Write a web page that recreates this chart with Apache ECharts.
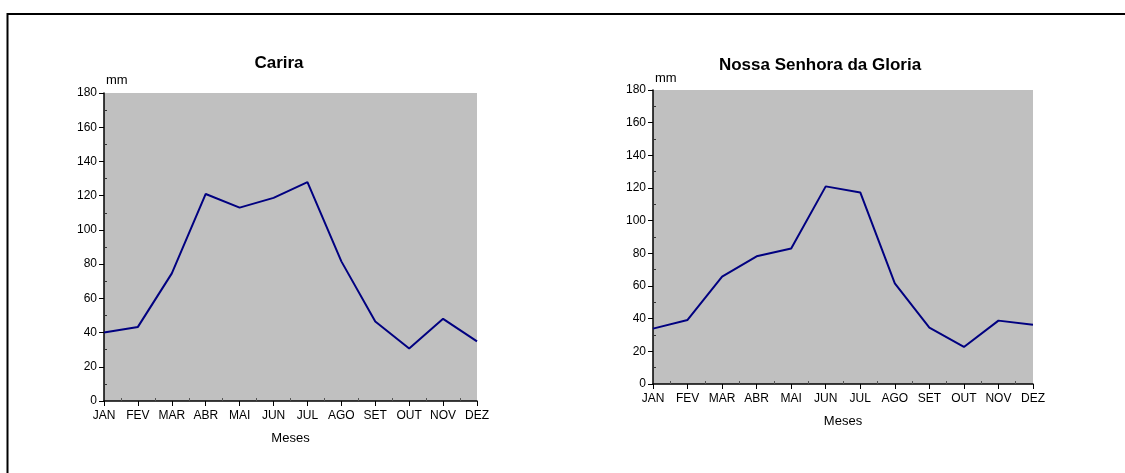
<!DOCTYPE html>
<html>
<head>
<meta charset="utf-8">
<script src="https://cdn.jsdelivr.net/npm/echarts@6/dist/echarts.min.js"></script>
<style>
  html, body { margin: 0; padding: 0; background: #fff; }
  #main { width: 1125px; height: 473px; }
</style>
</head>
<body>
<div id="main"></div>
<script>
// dados de precipitação mensal (mm)
const meses = ['JAN', 'FEV', 'MAR', 'ABR', 'MAI', 'JUN', 'JUL', 'AGO', 'SET', 'OUT', 'NOV', 'DEZ'];
const carira = [40, 43.3, 74.6, 121, 113, 118.7, 127.9, 81.6, 46.5, 30.7, 48, 34.8];
const gloria = [33.9, 39.2, 65.7, 78.2, 82.9, 121, 117.3, 61.6, 34.5, 22.7, 38.8, 36.3];
const yTicks = [0, 20, 40, 60, 80, 100, 120, 140, 160, 180];

const font = 'Liberation Sans, Arial, sans-serif';
const minorY = yTicks.slice(0, -1).map(v => v + 10);
const minorX = meses.slice(0, -1).map((m, i) => i + 0.5);

let myChart = echarts.init(document.getElementById('main'));

function eixoX(grid) {
	return {
		type: 'category',
		gridIndex: grid,
		data: meses,
		boundaryGap: false,
		name: 'Meses',
		nameLocation: 'middle',
		nameGap: 31,
		nameTextStyle: { color: '#000', fontSize: 13, fontFamily: font },
		axisLine: { lineStyle: { color: '#000', width: 1.5 } },
		axisTick: { alignWithLabel: true, length: 5, lineStyle: { color: '#000' } },
		axisLabel: { color: '#000', fontSize: 12, fontFamily: font, margin: 9, interval: 0 },
		splitLine: { show: false }
	}
}

function eixoY(grid, gap) {
	return {
		type: 'value',
		gridIndex: grid,
		min: 0,
		max: 180,
		interval: 20,
		name: 'mm',
		nameLocation: 'end',
		nameGap: gap,
		nameTextStyle: { color: '#000', fontSize: 13, fontFamily: font, align: 'left', padding: [0, 0, 0, 2] },
		axisLine: { show: true, lineStyle: { color: '#000', width: 1.5 } },
		axisTick: { show: true, length: 5, lineStyle: { color: '#000' } },
		axisLabel: { color: '#000', fontSize: 12, fontFamily: font, margin: 7 },
		splitLine: { show: false }
	}
}

// eixos auxiliares so para os tracinhos menores internos
function menorX(grid) {
	return {
		type: 'value', gridIndex: grid, min: 0, max: 11, position: 'bottom',
		axisLine: { show: false },
		axisTick: { show: true, inside: true, length: 3, customValues: minorX, lineStyle: { color: '#555' } },
		axisLabel: { show: false },
		splitLine: { show: false }
	}
}
function menorY(grid) {
	return {
		type: 'value', gridIndex: grid, min: 0, max: 180, position: 'left',
		axisLine: { show: false },
		axisTick: { show: true, inside: true, length: 3, customValues: minorY, lineStyle: { color: '#333' } },
		axisLabel: { show: false },
		splitLine: { show: false }
	}
}

function serie(nome, dados, idx) {
	return {
		name: nome,
		type: 'line',
		xAxisIndex: idx,
		yAxisIndex: idx,
		data: dados,
		symbol: 'none',
		lineStyle: { color: '#000080', width: 2 },
		z: 5
	}
}

let option = {
	backgroundColor: '#fff',
	animation: false,
	grid: [
		{ left: 104, top: 93, width: 373, height: 308, show: true, backgroundColor: '#c0c0c0', borderWidth: 0 },
		{ left: 653, top: 90, width: 380, height: 294, show: true, backgroundColor: '#c0c0c0', borderWidth: 0 }
	],
	xAxis: [eixoX(0), eixoX(1), menorX(0), menorX(1)],
	yAxis: [eixoY(0, 6), eixoY(1, 5), menorY(0), menorY(1)],
	series: [
		serie('Carira', carira, 0),
		serie('Nossa Senhora da Gloria', gloria, 1)
	],
	graphic: [
		{
			type: 'polyline',
			shape: { points: [[7.5, 480], [7.5, 14], [1130, 14]] },
			style: { stroke: '#000', lineWidth: 2, fill: null }
		},
		{
			type: 'text', x: 279, y: 63,
			style: { text: 'Carira', font: 'bold 17px ' + font, fill: '#000', align: 'center', verticalAlign: 'middle' }
		},
		{
			type: 'text', x: 820, y: 65,
			style: { text: 'Nossa Senhora da Gloria', font: 'bold 17px ' + font, fill: '#000', align: 'center', verticalAlign: 'middle' }
		}
	]
}

myChart.setOption(option);
</script>
</body>
</html>
